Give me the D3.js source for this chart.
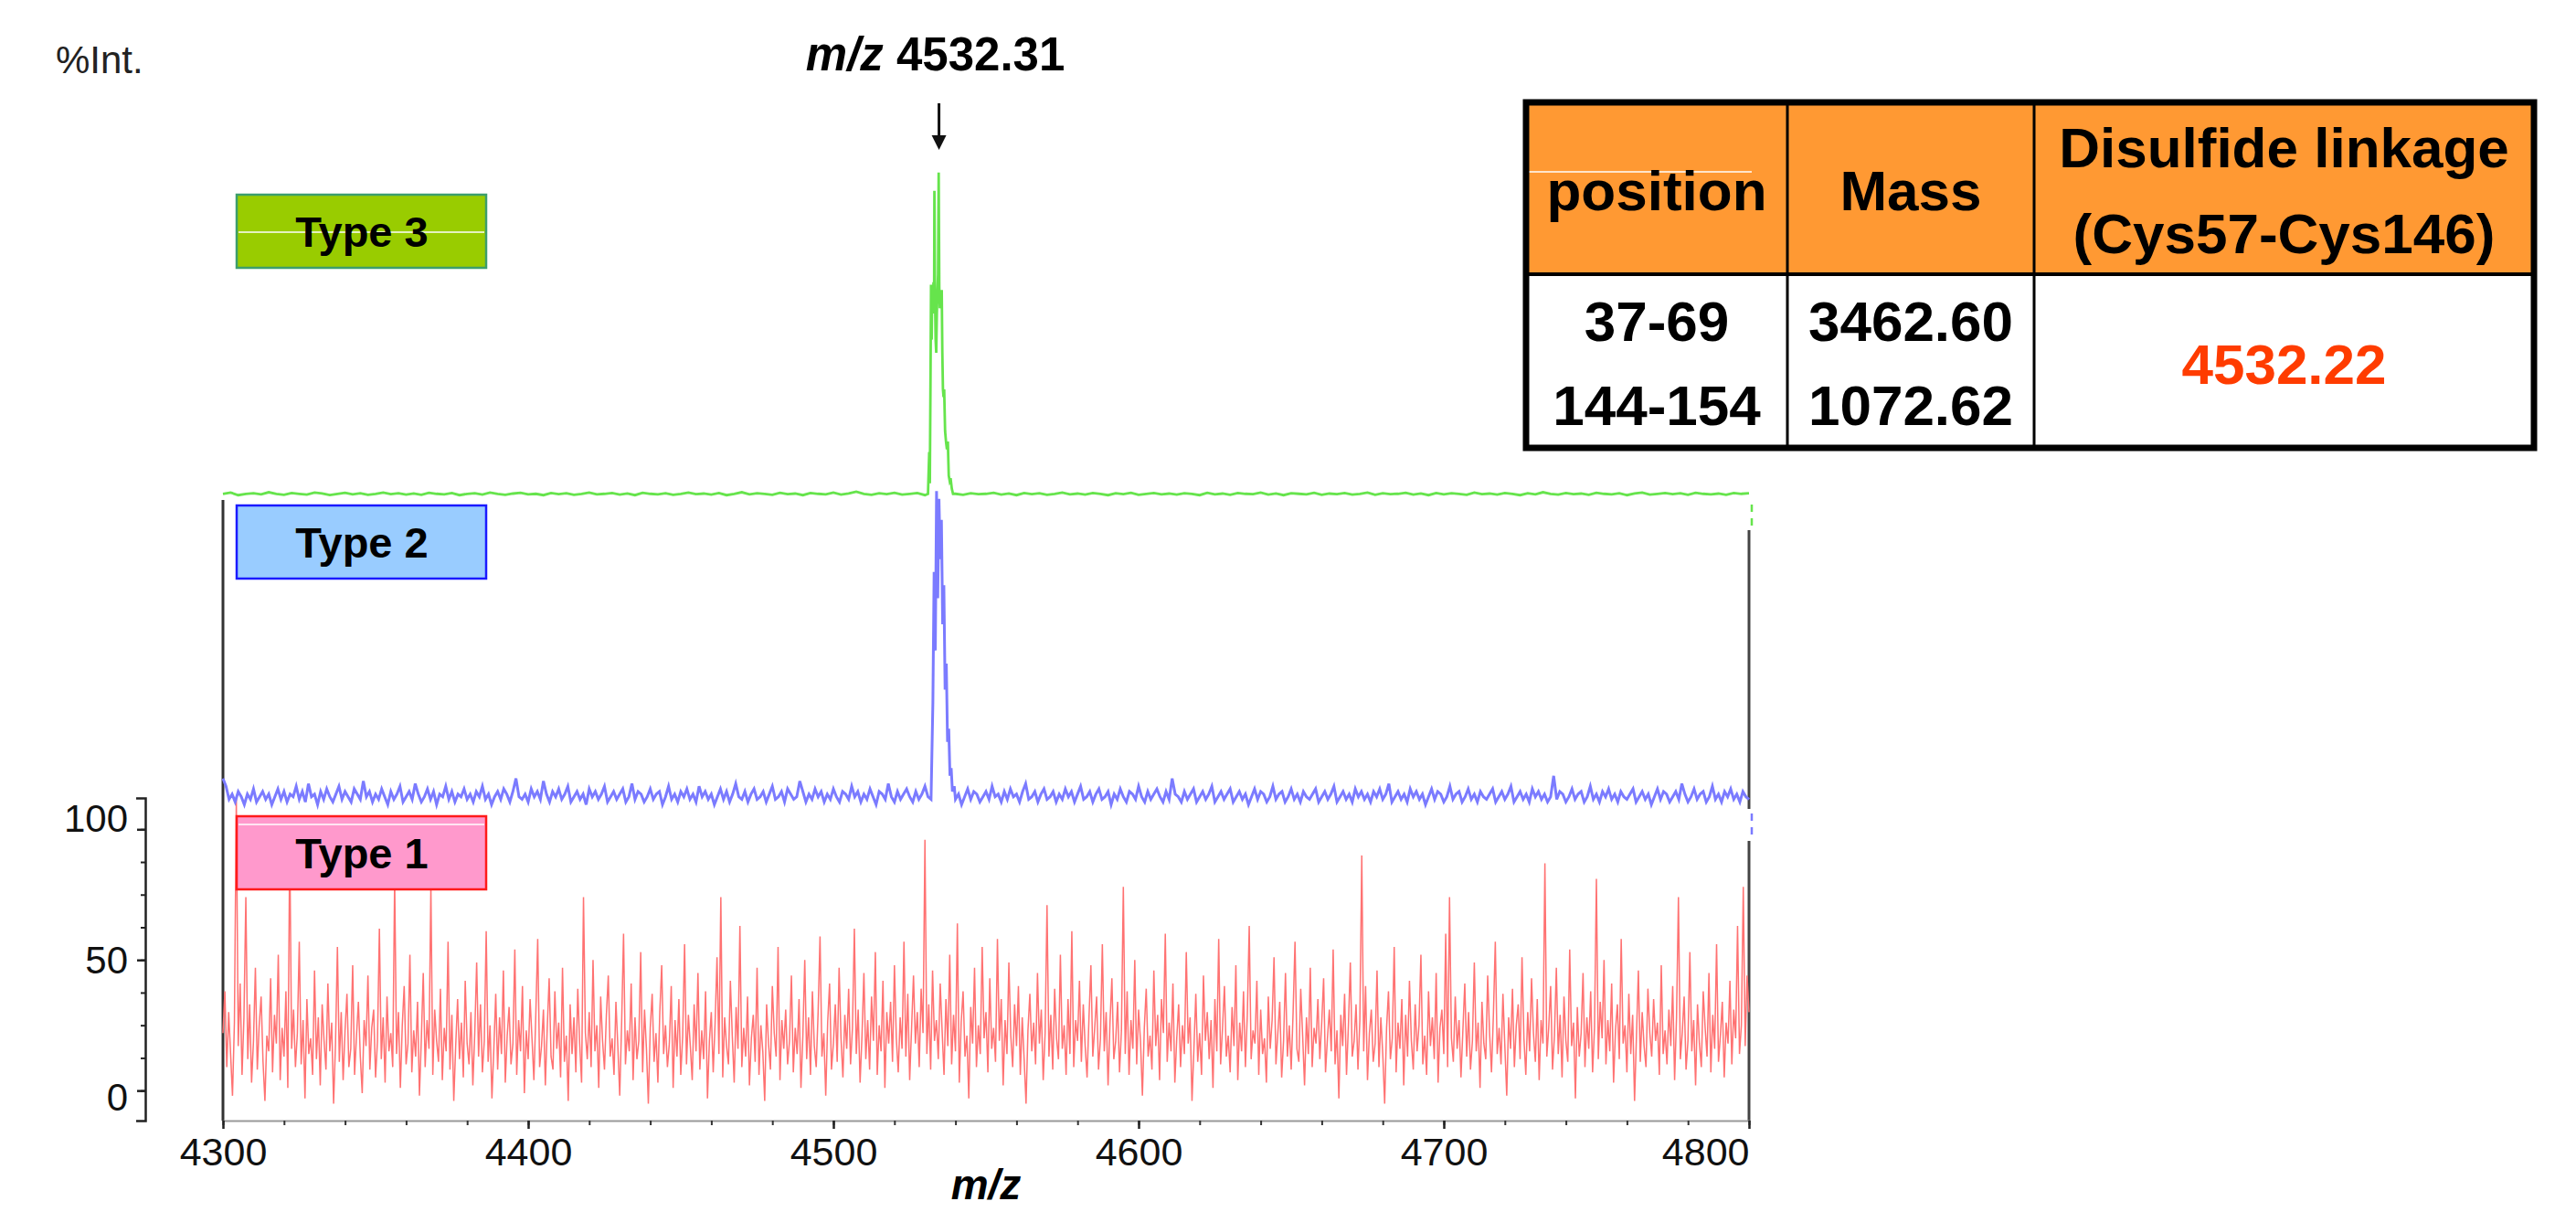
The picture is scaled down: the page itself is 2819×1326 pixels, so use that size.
<!DOCTYPE html>
<html>
<head>
<meta charset="utf-8">
<script src="https://cdn.jsdelivr.net/npm/d3@7"></script>
<style>
  body { margin: 0; background: #fff; }
  svg { display: block; font-family: 'Liberation Sans', Arial, sans-serif; }
</style>
</head>
<body>
<svg id="canvas" width="2819" height="1326"></svg>
<script>
// m/z range of the spectra
let mzDomain = [4300, 4800]
let xTicks = [4300, 4400, 4500, 4600, 4700, 4800]
let yTicks = [0, 50, 100]

// Type 1 : noise only, one value every 0.625 m/z from 4300
let type1Step = 0.625
let type1Intensity = [
  22, 38, 9, 30, 14, -2, 26, 112, 17, 41, 6, 28, 74, 12, 33, 3, 19, 47, 8, 25, 36, 11, -4, 21, 15,
  43, 7, 29, 18, 52, 4, 24, 13, 38, 1, 95, 16, 31, 9, 22, 57, 10, 27, -3, 35, 14, 20, 6, 46, 12,
  28, 2, 33, 19, 8, 41, 15, 26, -5, 18, 55, 11, 30, 4, 23, 37, 9, 16, 48, 6, 21, 34, 13, -1, 27,
  17, 44, 8, 24, 31, 5, 19, 62, 12, 28, 3, 36, 15, 22, 9, 81, 14, 30, 1, 25, 40, 10, 18, 52, 7,
  23, 13, 34, -2, 20, 45, 9, 27, 16, 78, 6, 31, 19, 11, 39, 4, 24, 15, 57, 8, 29, -4, 17, 35, 12,
  26, 5, 42, 18, 10, 30, 2, 22, 49, 13, 33, 7, 19, 61, 11, 25, -3, 16, 37, 8, 28, 14, 46, 3, 21,
  32, 10, 18, 54, 6, 27, 15, 40, -1, 23, 12, 35, 20, 4, 29, 58, 9, 17, 31, 2, 24, 43, 13, 8, 38,
  16, 26, 5, 47, 11, 21, -4, 33, 14, 28, 7, 39, 18, 3, 74, 22, 12, 30, 9, 50, 15, 25, 1, 36, 19,
  8, 29, 44, 13, 20, 6, 34, 17, -2, 26, 60, 10, 23, 15, 41, 4, 28, 12, 19, 53, 7, 31, 16, -5, 24,
  37, 11, 22, 3, 30, 48, 14, 25, 9, 18, 40, 1, 27, 13, 35, 6, 21, 56, 10, 29, 17, 4, 33, 15, 45,
  8, 23, 12, 38, -3, 19, 30, 7, 26, 51, 14, 74, 5, 28, 17, 10, 42, 21, 3, 32, 16, 63, 9, 24, 13,
  36, 2, 20, 29, 11, 47, 6, 25, 15, -4, 33, 18, 8, 40, 22, 13, 55, 4, 27, 16, 31, 10, 19, 44, 7,
  24, 14, 35, 1, 21, 50, 12, 28, 6, 38, 17, 9, 30, 59, 13, 22, -2, 26, 41, 8, 18, 33, 11, 47, 20,
  5, 29, 16, 39, 10, 24, 62, 14, 31, 3, 21, 45, 12, 27, 8, 36, 19, 53, 6, 25, 15, 42, 1, 30, 18,
  34, 11, 48, 20, 7, 28, 16, 57, 13, 37, 4, 24, 44, 18, 30, 9, 39, 22, 96, 14, 33, 8, 46, 19, 27,
  12, 41, 23, 6, 35, 17, 52, 10, 29, 15, 64, 3, 26, 38, 13, 21, -3, 32, 18, 47, 9, 25, 14, 55, 20,
  30, 7, 43, 16, 24, 11, 58, 19, 35, 2, 27, 14, 49, 21, 9, 33, 17, 40, 6, 28, 12, -5, 23, 37, 15,
  26, 10, 45, 18, 31, 4, 22, 71, 13, 29, 8, 39, 20, 12, 52, 16, 25, 6, 35, 14, 61, 9, 27, 19, 42,
  11, 33, 17, 5, 28, 48, 13, 24, 36, 8, 20, 56, 15, 30, 2, 26, 43, 12, 19, 34, 7, 23, 78, 14, 38,
  6, 27, 16, 50, 10, 31, 19, -2, 24, 39, 13, 21, 8, 46, 17, 29, 4, 35, 22, 60, 11, 26, 15, 41, 3,
  20, 33, 9, 25, 14, 53, 18, 28, -4, 16, 37, 11, 22, 6, 44, 19, 30, 12, 27, 1, 35, 15, 58, 10, 24,
  40, 13, 21, 7, 32, 17, 48, 4, 26, 15, 38, 9, 29, 63, 12, 23, 18, 42, 6, 31, 14, 20, 3, 36, 16,
  27, 51, 10, 22, 34, 5, 19, 45, 13, 25, 8, 30, 57, 16, 11, 39, 21, 2, 28, 14, 47, 9, 24, 18, 35,
  12, 26, 43, 7, 20, 31, 15, 54, 10, 23, -3, 29, 17, 37, 6, 25, 49, 13, 19, 33, 8, 27, 90, 15, 40,
  4, 22, 31, 11, 18, 46, 9, 28, 14, -5, 24, 38, 12, 20, 55, 7, 26, 16, 35, 2, 29, 13, 42, 19, 8,
  33, 15, 25, 52, 10, 21, 6, 38, 17, 28, 12, 45, 3, 24, 31, 14, 60, 9, 74, 20, 11, 36, 16, 27, 5,
  23, 41, 13, 30, 8, 19, 49, 15, 26, 1, 34, 18, 12, 44, 22, 7, 29, 57, 14, 24, 10, 37, 17, -2, 28,
  16, 39, 9, 25, 33, 12, 51, 20, 6, 30, 15, 43, 22, 11, 35, 4, 27, 18, 87, 13, 24, 40, 8, 21, 47,
  14, 29, 5, 36, 19, 11, 54, 17, 26, -3, 32, 13, 22, 45, 9, 28, 16, 38, 7, 24, 81, 12, 34, 20, 50,
  10, 27, 15, 41, 3, 23, 33, 12, 58, 18, 25, 7, 37, 14, 29, -4, 21, 46, 11, 30, 17, 9, 39, 22, 13,
  35, 19, 26, 6, 48, 14, 23, 10, 31, 17, 40, 4, 28, 74, 12, 22, 36, 8, 19, 53, 15, 27, 2, 33, 18,
  9, 38, 24, 13, 45, 7, 29, 16, 56, 11, 21, 34, 5, 26, 18, 42, 10, 31, 20, 63, 14, 25, 78, 17, 44,
  30
]

// Type 2 : noise every 1 m/z, plus the peak points
let type2Step = 1
let type2Intensity = [
  11, 8, 3, 5, 2, 6, 4, 1, 5, 3, 7, 2, 4, 6, 3, 5, 1, 4, 7, 3, 6, 2, 5, 4, 8,
  3, 6, 2, 9, 4, 5, 1, 6, 3, 7, 4, 2, 5, 8, 3, 6, 4, 2, 7, 5, 3, 10, 4, 6, 2,
  5, 3, 7, 4, 1, 6, 3, 5, 8, 2, 4, 6, 3, 9, 5, 2, 4, 7, 3, 6, 1, 5, 4, 8, 3,
  6, 2, 5, 4, 7, 3, 5, 2, 6, 4, 8, 3, 5, 1, 4, 6, 3, 7, 5, 2, 6, 11, 4, 3, 5,
  2, 7, 4, 6, 3, 10, 5, 2, 6, 4, 7, 3, 5, 8, 2, 4, 6, 3, 5, 1, 7, 4, 6, 3, 5,
  8, 2, 4, 6, 3, 5, 7, 2, 4, 9, 3, 6, 5, 2, 4, 7, 3, 5, 6, 1, 4, 8, 3, 5, 2,
  6, 4, 7, 3, 5, 2, 8, 4, 6, 3, 5, 1, 4, 7, 3, 6, 2, 5, 9, 4, 3, 6, 2, 5, 7,
  3, 4, 6, 2, 5, 8, 3, 4, 6, 2, 7, 5, 3, 4, 10, 6, 2, 5, 3, 7, 4, 6, 2, 5, 3,
  7, 4, 2, 6, 5, 3, 8, 4, 6, 2, 5, 3, 7, 4, 1, 6, 5, 3, 9, 4, 2, 6, 3, 5, 7,
  4, 2, 6, 3, 5, 8, 4, 2, 6, 3, 5, 7, 2, 4, 6, 3, 5, 1, 4, 7, 3, 6, 5, 2, 4,
  6, 3, 8, 4, 5, 2, 6, 3, 7, 4, 5, 2, 6, 9, 3, 4, 6, 2, 5, 7, 3, 4, 6, 2, 5,
  3, 7, 4, 6, 2, 5, 8, 3, 4, 6, 2, 5, 7, 3, 4, 6, 1, 5, 3, 7, 4, 2, 6, 5, 3,
  8, 4, 2, 6, 3, 5, 7, 4, 2, 6, 3, 11, 5, 4, 2, 6, 3, 5, 7, 2, 4, 6, 3, 5, 8,
  2, 4, 6, 3, 5, 7, 2, 4, 6, 3, 5, 1, 4, 7, 3, 6, 5, 2, 4, 8, 3, 5, 6, 2, 4,
  7, 3, 5, 2, 6, 4, 3, 5, 7, 2, 4, 6, 3, 5, 8, 2, 4, 6, 3, 5, 2, 7, 4, 6, 3,
  5, 2, 6, 4, 7, 3, 5, 9, 2, 4, 6, 3, 5, 2, 7, 4, 6, 3, 5, 1, 4, 7, 3, 6, 5,
  2, 4, 8, 3, 5, 6, 2, 4, 7, 3, 5, 2, 6, 4, 3, 5, 7, 2, 4, 6, 3, 5, 8, 2, 4,
  6, 3, 5, 2, 7, 4, 6, 3, 5, 2, 4, 12, 3, 6, 5, 2, 4, 7, 3, 5, 6, 2, 4, 8, 3,
  5, 2, 6, 4, 7, 3, 5, 2, 6, 4, 3, 5, 7, 2, 4, 6, 3, 5, 1, 4, 7, 3, 6, 5, 2,
  4, 6, 3, 9, 5, 2, 4, 7, 3, 5, 6, 2, 4, 8, 3, 5, 2, 6, 4, 7, 3, 5, 2, 6, 4,
  3
]
let type2PeakMz  = [4532.0, 4532.6, 4533.0, 4533.4, 4533.8, 4534.2, 4534.6, 4535.0, 4535.4, 4535.8, 4536.2, 4536.6, 4537.0, 4537.4, 4537.8, 4538.2, 4538.6, 4539.0, 4539.6]
let type2PeakInt = [3, 40, 90, 60, 121, 80, 118, 95, 110, 70, 85, 45, 55, 25, 30, 12, 15, 6, 8]

// Type 3 : flat baseline every 2.5 m/z, plus the peak points
let type3Step = 2.5
let type3Intensity = [
  1, 1.5, 0.5, 1, 1.2, 0.8, 1.6, 1, 0.6, 1.3, 1, 0.7, 1.5, 1.1, 0.5, 1, 1.4, 0.8, 1.2, 0.6, 1, 1.5, 0.9, 1.2, 0.7,
  1.1, 0.6, 1.4, 1, 0.8, 1.3, 0.5, 1, 1.2, 0.7, 1.5, 1, 0.6, 1.1, 1.4, 0.8, 1, 0.5, 1.3, 0.9, 1.2, 0.6, 1, 1.5, 0.8,
  1, 1.3, 0.7, 1.1, 0.5, 1.4, 1, 0.8, 1.2, 0.6, 1, 1.5, 0.9, 1.1, 0.7, 1.3, 0.5, 1, 1.6, 0.8, 1.2, 1, 0.6, 1.4, 0.9,
  1.1, 0.5, 1.3, 1, 0.8, 1.5, 0.7, 1.1, 1.8, 1, 0.6, 1.2, 0.9, 1.4, 0.7, 1, 1.3, 0.5, 1.1, 0.8, 1.5, 1, 0.6, 1.2, 0.9,
  1, 1.4, 0.7, 1.1, 0.5, 1.3, 0.9, 1.2, 0.6, 1, 1.5, 0.8, 1.1, 0.7, 1.3, 1, 0.5, 1.2, 0.9, 1.4, 0.6, 1, 1.3, 0.8, 1.1,
  0.7, 1.2, 1, 0.5, 1.4, 0.8, 1.1, 0.6, 1.3, 1, 0.9, 1.5, 0.7, 1.1, 0.5, 1.2, 1, 0.8, 1.4, 0.6, 1.1, 0.9, 1.3, 0.7, 1,
  1.5, 0.6, 1.2, 0.9, 1, 1.4, 0.7, 1.1, 0.5, 1.3, 0.8, 1.2, 1, 0.6, 1.5, 0.9, 1.1, 0.7, 1.3, 1, 0.5, 1.2, 0.8, 1.6, 1,
  0.7, 1.3, 0.9, 1.1, 0.6, 1.4, 1, 0.8, 1.2, 0.5, 1.1, 1.5, 0.7, 1, 1.3, 0.9, 1.2, 0.6, 1.4, 1, 0.8, 1.1, 0.6, 1.3, 1,
  1.2
]
let type3PeakMz  = [4531.0, 4531.4, 4531.6, 4531.8, 4532.0, 4532.2, 4532.4, 4532.6, 4532.8, 4533.0, 4533.1, 4533.3, 4533.5, 4533.7, 4533.9, 4534.1, 4534.3, 4534.5, 4534.7, 4534.9, 4535.1, 4535.3, 4535.5, 4535.7, 4535.9, 4536.1, 4536.3, 4536.6, 4536.9, 4537.2, 4537.5, 4537.8, 4538.1, 4538.4, 4538.8, 4539.2]
let type3PeakInt = [1, 17, 5, 40, 81, 60, 80, 70, 82, 75, 117, 78, 60, 55, 70, 78, 85, 124, 80, 72, 79, 76, 79, 55, 41, 38, 41, 25, 21, 18, 21, 8, 6, 7, 3, 1]

let typeNames = ['Type 1', 'Type 2', 'Type 3']
let peakText = '4532.31'
let arrowMz = 4534.6

// table
let headerCells = [['position'], ['Mass'], ['Disulfide linkage', '(Cys57-Cys146)']]
let positions = ['37-69', '144-154']
let masses = ['3462.60', '1072.62']
let linkageMass = '4532.22'

// ---------- layout ----------
let svg = d3.select('#canvas')
let left = 244, right = 1914, axisY = 1226, topY = 873
let traceShift = [0, 310, 650]     // vertical shift of each stacked trace
let boxTop = [893, 553, 213]
let traceColors = ['#ff7272', '#7b7bff', '#66e44c']
let traceWidth = [1.5, 3, 2.8]
let boxFill = ['#ff99cc', '#99ccff', '#99cc00']
let boxStroke = ['#ff1a1a', '#1a1aff', '#3c9e6c']

let xScale = d3.scaleLinear().domain(mzDomain).range([left, right])
let yScale = d3.scaleLinear().domain([-11.5, 112]).range([axisY, topY])

// build series
let buildNoise = (vals, step) => vals.map((v, i) => ({ mz: mzDomain[0] + i * step, v: v }))
let mergePeak = (noise, pMz, pInt) => {
  let lo = d3.min(pMz), hi = d3.max(pMz)
  let pts = noise.filter(d => d.mz < lo || d.mz > hi)
  pMz.forEach((m, i) => pts.push({ mz: m, v: pInt[i] }))
  return pts.sort((a, b) => a.mz - b.mz)
}
let series = [
  buildNoise(type1Intensity, type1Step),
  mergePeak(buildNoise(type2Intensity, type2Step), type2PeakMz, type2PeakInt),
  mergePeak(buildNoise(type3Intensity, type3Step), type3PeakMz, type3PeakInt)
]

// frames of the stacked panels
svg.append('line').attr('x1', left).attr('x2', left).attr('y1', 547).attr('y2', axisY)
  .attr('stroke', '#333').attr('stroke-width', 3)
let rightSegs = [[920, axisY], [580, 885]]
rightSegs.forEach(s => {
  svg.append('line').attr('x1', right).attr('x2', right).attr('y1', s[0]).attr('y2', s[1])
    .attr('stroke', '#444').attr('stroke-width', 3)
})
let dashSegs = [[552, 578, traceColors[2]], [890, 916, traceColors[1]]]
dashSegs.forEach(s => {
  svg.append('line').attr('x1', right + 3).attr('x2', right + 3).attr('y1', s[0]).attr('y2', s[1])
    .attr('stroke', s[2]).attr('stroke-width', 2.5).attr('stroke-dasharray', '8,7')
})

// traces
series.forEach((data, i) => {
  let line = d3.line()
    .x(d => xScale(d.mz))
    .y(d => yScale(d.v) - traceShift[i])
  svg.append('path')
    .datum(data)
    .attr('d', line)
    .attr('fill', 'none')
    .attr('stroke', traceColors[i])
    .attr('stroke-width', traceWidth[i])
    .attr('stroke-linejoin', 'miter')
})

// type labels (white streaks sit under the text, as on the figure)
let streakY = [902, null, 254]
typeNames.forEach((name, i) => {
  let g = svg.append('g')
  g.append('rect')
    .attr('x', 259).attr('y', boxTop[i]).attr('width', 273).attr('height', 80)
    .attr('fill', boxFill[i]).attr('stroke', boxStroke[i]).attr('stroke-width', 2.5)
  if (streakY[i]) {
    g.append('line').attr('x1', 261).attr('x2', 530).attr('y1', streakY[i]).attr('y2', streakY[i])
      .attr('stroke', '#fff').attr('stroke-width', 1.5)
  }
  g.append('text')
    .attr('x', 396).attr('y', boxTop[i] + 57)
    .attr('text-anchor', 'middle')
    .attr('font-size', 47).attr('font-weight', 'bold')
    .text(name)
})

// x axis
let xAxis = svg.append('g').attr('transform', `translate(0,${axisY})`)
xAxis.call(d3.axisBottom(xScale).tickValues(d3.range(4300, 4801, 20)).tickSize(5).tickSizeOuter(0).tickFormat(''))
xAxis.call(g => g.select('.domain').attr('stroke', '#999').attr('stroke-width', 2))
xAxis.selectAll('.tick line').attr('stroke', '#333').attr('stroke-width', 2)
let xMajor = svg.append('g').attr('transform', `translate(0,${axisY})`)
  .call(d3.axisBottom(xScale).tickValues(xTicks).tickSize(9).tickSizeOuter(0).tickPadding(9).tickFormat(d3.format('d')))
xMajor.select('.domain').remove()
xMajor.selectAll('.tick line').attr('stroke', '#222').attr('stroke-width', 2.5)
xMajor.selectAll('.tick text')
  .attr('font-size', 43).attr('font-family', 'Liberation Sans, Arial, sans-serif').attr('fill', '#111')
  .attr('text-anchor', d => d == 4800 ? 'end' : 'middle')

svg.append('text')
  .attr('x', (left + right) / 2).attr('y', 1312)
  .attr('text-anchor', 'middle')
  .attr('font-size', 46).attr('font-weight', 'bold').attr('font-style', 'italic')
  .text('m/z')

// y axis (Type 1 only)
let yAxisX = 159
let yMinor = svg.append('g').attr('transform', `translate(${yAxisX},0)`)
  .call(d3.axisLeft(yScale).tickValues(d3.range(-12.5, 112.6, 12.5).filter(v => v > -11.5 && v < 112)).tickSize(5).tickSizeOuter(10).tickFormat(''))
yMinor.select('.domain').attr('stroke', '#222').attr('stroke-width', 2.5)
yMinor.selectAll('.tick line').attr('stroke', '#222').attr('stroke-width', 2)
let yLabelShift = { 0: 8, 50: 1, 100: -11 }
let yMajor = svg.append('g').attr('transform', `translate(${yAxisX},0)`)
  .call(d3.axisLeft(yScale).tickValues(yTicks).tickSize(9).tickPadding(10))
yMajor.select('.domain').remove()
yMajor.selectAll('.tick line').attr('stroke', '#222').attr('stroke-width', 2.5)
yMajor.selectAll('.tick text')
  .attr('font-size', 42).attr('font-family', 'Liberation Sans, Arial, sans-serif').attr('fill', '#111')
  .attr('y', d => yLabelShift[d])

svg.append('text')
  .attr('x', 61).attr('y', 80)
  .attr('font-size', 42).attr('fill', '#222')
  .text('%Int.')

// peak annotation
let ax = xScale(arrowMz)
let peakLab = svg.append('text')
  .attr('x', ax - 4).attr('y', 77)
  .attr('text-anchor', 'middle')
  .attr('font-size', 51).attr('font-weight', 'bold')
peakLab.append('tspan').attr('font-style', 'italic').text('m/z')
peakLab.append('tspan').text(' ' + peakText)
svg.append('line').attr('x1', ax).attr('x2', ax).attr('y1', 113).attr('y2', 152)
  .attr('stroke', '#111').attr('stroke-width', 3)
svg.append('path')
  .attr('d', `M${ax - 8},148 L${ax + 8},148 L${ax},164 Z`)
  .attr('fill', '#111')

// ---------- table ----------
let tL = 1670, tR = 2773, tT = 112, tB = 490, headB = 300
let colX = [tL, 1956, 2226, tR]
let table = svg.append('g')
table.append('rect').attr('x', tL).attr('y', tT).attr('width', tR - tL).attr('height', headB - tT).attr('fill', '#ff9933')
table.append('rect').attr('x', tL).attr('y', headB).attr('width', tR - tL).attr('height', tB - headB).attr('fill', '#fff')
table.append('line').attr('x1', tL).attr('x2', 1917).attr('y1', 188).attr('y2', 188).attr('stroke', '#fff').attr('stroke-width', 1.5)
table.selectAll('line.col')
  .data([colX[1], colX[2]])
  .enter()
  .append('line')
  .attr('class', 'col')
  .attr('x1', d => d).attr('x2', d => d).attr('y1', tT).attr('y2', tB)
  .attr('stroke', '#000').attr('stroke-width', 3)
table.append('line').attr('x1', tL).attr('x2', tR).attr('y1', headB).attr('y2', headB)
  .attr('stroke', '#000').attr('stroke-width', 4)
table.append('rect').attr('x', tL).attr('y', tT).attr('width', tR - tL).attr('height', tB - tT)
  .attr('fill', 'none').attr('stroke', '#000').attr('stroke-width', 7)

let colMid = i => (colX[i] + colX[i + 1]) / 2
headerCells.forEach((lines, i) => {
  let base = lines.length == 1 ? [230] : [183, 277]
  lines.forEach((t, j) => {
    table.append('text')
      .attr('x', colMid(i)).attr('y', base[j])
      .attr('text-anchor', 'middle')
      .attr('font-size', 62).attr('font-weight', 'bold')
      .text(t)
  })
})
let rowBase = [373, 465]
positions.forEach((p, j) => {
  table.append('text').attr('x', colMid(0)).attr('y', rowBase[j]).attr('text-anchor', 'middle')
    .attr('font-size', 62).attr('font-weight', 'bold').text(p)
  table.append('text').attr('x', colMid(1)).attr('y', rowBase[j]).attr('text-anchor', 'middle')
    .attr('font-size', 62).attr('font-weight', 'bold').text(masses[j])
})
table.append('text').attr('x', colMid(2)).attr('y', 420).attr('text-anchor', 'middle')
  .attr('font-size', 62).attr('font-weight', 'bold').attr('fill', '#ff3c00').text(linkageMass)
</script>
</body>
</html>
